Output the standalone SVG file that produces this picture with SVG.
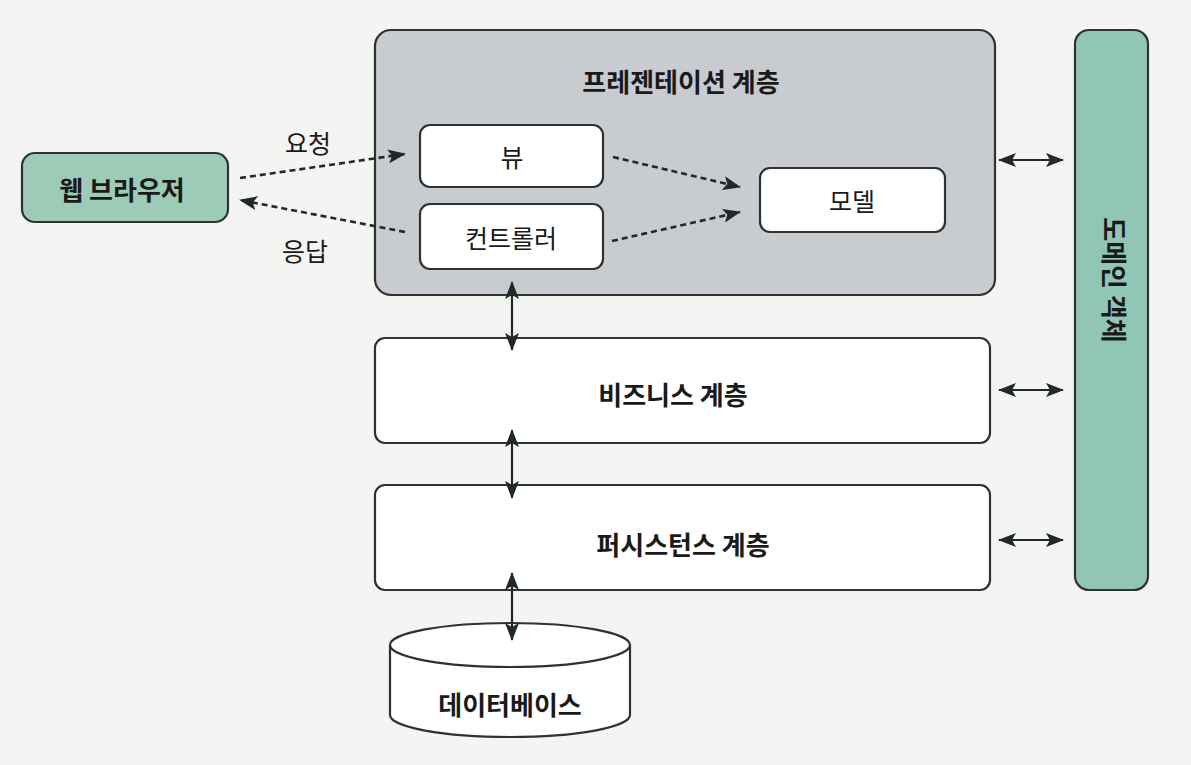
<svg xmlns="http://www.w3.org/2000/svg" width="1191" height="765" viewBox="0 0 1191 765">
<style>
text{font-family:"Noto Sans CJK KR","Noto Sans",sans-serif;fill:#1a1a1a;text-anchor:middle;dominant-baseline:central}
.b{font-weight:bold;font-size:26px}
.n{font-size:25px}
.box{stroke:#2e3230;stroke-width:2.2}
.solid{stroke:#1f2a26;stroke-width:2.2;fill:none}
.dash{stroke:#1f2a26;stroke-width:2.6;fill:none;stroke-dasharray:6 4}
</style>
<defs>
<marker id="ahb" viewBox="0 0 18 14" refX="17" refY="7" markerWidth="18" markerHeight="14" markerUnits="userSpaceOnUse" orient="auto-start-reverse">
<path d="M0,0 L18,7 L0,14 L4,7 Z" fill="#1f2a26"/>
</marker>
</defs>
<rect width="1191" height="765" fill="#f4f4f3"/>
<g id="presentation">
<rect class="box" x="375" y="30" width="620" height="265" rx="16" fill="#c8ccd0"/>
<text class="b" x="681" y="80">프레젠테이션 계층</text>
</g>
<g id="view">
<rect class="box" x="420" y="125" width="183" height="62" rx="10" fill="#ffffff"/>
<text class="n" x="512" y="156">뷰</text>
</g>
<g id="controller">
<rect class="box" x="420" y="204" width="183" height="65" rx="10" fill="#ffffff"/>
<text class="n" x="511" y="237">컨트롤러</text>
</g>
<g id="model">
<rect class="box" x="760" y="168" width="185" height="64" rx="10" fill="#ffffff"/>
<text class="n" x="852" y="200">모델</text>
</g>
<g id="browser">
<rect class="box" x="22" y="153" width="206" height="69" rx="13" fill="#9ccbb8"/>
<text class="b" x="122" y="188">웹 브라우저</text>
</g>
<g id="business">
<rect class="box" x="375" y="338" width="615" height="105" rx="10" fill="#ffffff"/>
<text class="b" x="673" y="393">비즈니스 계층</text>
</g>
<g id="persistence">
<rect class="box" x="375" y="485" width="615" height="105" rx="10" fill="#ffffff"/>
<text class="b" x="683" y="543">퍼시스턴스 계층</text>
</g>
<g id="database">
<path class="box" d="M390,645 L390,715 A120,22 0 0 0 630,715 L630,645" fill="#ffffff"/>
<ellipse class="box" cx="510" cy="645" rx="120" ry="22" fill="#ffffff"/>
<text class="b" x="510" y="703">데이터베이스</text>
</g>
<g id="domain">
<rect class="box" x="1075" y="30" width="73" height="560" rx="14" fill="#92c6b4"/>
<text class="b" font-size="25" transform="translate(1115,280) rotate(90)" x="0" y="0">도메인 객체</text>
</g>
<g id="connectors">
<line class="dash" x1="240" y1="178" x2="405" y2="154" marker-end="url(#ahb)"/>
<line class="dash" x1="405" y1="232" x2="240" y2="200" marker-end="url(#ahb)"/>
<line class="dash" x1="613" y1="157" x2="740" y2="187" marker-end="url(#ahb)"/>
<line class="dash" x1="612" y1="241" x2="740" y2="212" marker-end="url(#ahb)"/>
<line class="solid" x1="512" y1="282" x2="512" y2="350" marker-start="url(#ahb)" marker-end="url(#ahb)"/>
<line class="solid" x1="512" y1="430" x2="512" y2="498" marker-start="url(#ahb)" marker-end="url(#ahb)"/>
<line class="solid" x1="512" y1="573" x2="512" y2="640" marker-start="url(#ahb)" marker-end="url(#ahb)"/>
<line class="solid" x1="999" y1="160" x2="1063" y2="160" marker-start="url(#ahb)" marker-end="url(#ahb)"/>
<line class="solid" x1="999" y1="390" x2="1063" y2="390" marker-start="url(#ahb)" marker-end="url(#ahb)"/>
<line class="solid" x1="999" y1="540" x2="1063" y2="540" marker-start="url(#ahb)" marker-end="url(#ahb)"/>
<text class="n" x="308" y="142">요청</text>
<text class="n" x="305" y="250">응답</text>
</g>
</svg>
